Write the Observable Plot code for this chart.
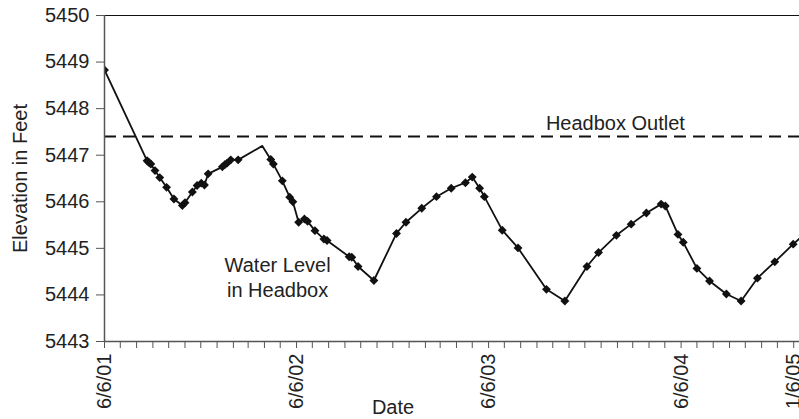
<!DOCTYPE html>
<html><head><meta charset="utf-8">
<script src="https://cdn.jsdelivr.net/npm/d3@7"></script>
<script src="https://cdn.jsdelivr.net/npm/@observablehq/plot@0.6"></script>
<style>html,body{margin:0;padding:0;background:#fff;overflow:hidden}</style>
</head><body>
<script>
// Water level in headbox (measurement dates and elevations in feet)
const dates = [
  "2001-06-06","2001-08-26","2001-08-29","2001-09-02","2001-09-10","2001-09-19","2001-10-02","2001-10-16",
  "2001-11-01","2001-11-06","2001-11-20","2001-11-29","2001-12-07","2001-12-13","2001-12-20","2002-01-16",
  "2002-01-21","2002-01-25","2002-02-01","2002-02-15","2002-04-02","2002-04-18","2002-04-23","2002-05-10",
  "2002-05-24","2002-05-30","2002-06-10","2002-06-21","2002-06-27","2002-07-11","2002-07-28","2002-08-03",
  "2002-09-14","2002-09-19","2002-10-01","2002-10-31","2002-12-13","2002-12-31","2003-01-30","2003-02-27",
  "2003-03-27","2003-04-23","2003-05-06","2003-05-20","2003-05-29","2003-07-02","2003-08-01","2003-09-24",
  "2003-10-29","2003-12-10","2004-01-01","2004-02-04","2004-03-03","2004-04-01","2004-04-29","2004-05-07",
  "2004-05-31","2004-06-10","2004-07-06","2004-07-30","2004-08-31","2004-09-28","2004-10-29","2004-12-01",
  "2005-01-05","2005-02-09"
];
const elevations = [
  5448.83, 5446.88, 5446.85, 5446.81, 5446.67, 5446.52, 5446.31, 5446.06,
  5445.92, 5445.98, 5446.21, 5446.35, 5446.40, 5446.36, 5446.60, 5446.75,
  5446.80, 5446.83, 5446.90, 5446.90, 5447.20, 5446.91, 5446.81, 5446.45,
  5446.10, 5446.00, 5445.56, 5445.63, 5445.58, 5445.38, 5445.20, 5445.17,
  5444.82, 5444.81, 5444.61, 5444.31, 5445.32, 5445.56, 5445.86, 5446.11,
  5446.29, 5446.41, 5446.53, 5446.29, 5446.11, 5445.39, 5445.01, 5444.12,
  5443.87, 5444.61, 5444.91, 5445.28, 5445.52, 5445.76, 5445.95, 5445.91,
  5445.30, 5445.13, 5444.57, 5444.30, 5444.02, 5443.87, 5444.36, 5444.71,
  5445.09, 5445.44
];
// 1 = drawn with a diamond marker, 0 = line vertex only
const markers = [
  1,1,1,1,1,1,1,1, 1,1,1,1,1,1,1,1, 1,1,1,1,0,1,1,1, 1,1,1,1,1,1,1,1,
  1,1,1,1,1,1,1,1, 1,1,1,1,1,1,1,1, 1,1,1,1,1,1,1,1, 1,1,1,1,1,1,1,1,
  1,0
];
const headboxOutlet = 5447.4;
const yTicks = [5443, 5444, 5445, 5446, 5447, 5448, 5449, 5450];
const xTickDates = ["2001-06-06", "2002-06-06", "2003-06-06", "2004-06-06", "2005-01-06"];
const xTickLabels = ["6/6/01", "6/6/02", "6/6/03", "6/6/04", "1/6/05"];
const xLabel = "Date";
const yLabel = "Elevation in Feet";
const outletLabel = "Headbox Outlet";
const waterLabel = "Water Level\nin Headbox";

const data = dates.map((d, i) => ({date: new Date(d), elevation: elevations[i], marker: markers[i]}));
const xStart = new Date("2001-06-06"), xEnd = new Date("2005-01-17");
const monthTicks = d3.utcMonth.range(new Date("2001-06-01"), xEnd)
  .map(d => d3.utcDay.offset(d, 5))
  .filter(d => d >= xStart && d <= xEnd);
const labelMap = new Map(xTickDates.map((d, i) => [+new Date(d), xTickLabels[i]]));

const chart = Plot.plot({
  width: 799, height: 419,
  marginLeft: 104, marginRight: 0, marginTop: 15, marginBottom: 78,
  style: {fontFamily: "'Liberation Sans', Arial, sans-serif", fontSize: "20px", color: "#222", background: "#fff", overflow: "hidden", maxWidth: "none"},
  x: {type: "utc", domain: [xStart, xEnd]},
  y: {domain: [5443, 5450]},
  marks: [
    Plot.ruleY([headboxOutlet], {stroke: "#111", strokeWidth: 2, strokeDasharray: "12,7"}),
    Plot.line(data, {x: "date", y: "elevation", stroke: "#111", strokeWidth: 1.8, clip: true}),
    Plot.dot(data.filter(d => d.marker), {x: "date", y: "elevation", symbol: "diamond2", r: 4, fill: "#111", clip: true}),
    Plot.ruleY([5450], {stroke: "#111", strokeWidth: 1}),
    Plot.ruleY([5443], {stroke: "#555", strokeWidth: 1.5}),
    Plot.ruleX([xStart], {stroke: "#555", strokeWidth: 1.5}),
    Plot.axisY({ticks: yTicks, tickSize: 8, tickPadding: 7, tickFormat: d => String(d), label: null, stroke: "#555", fill: "#222"}),
    Plot.axisX({ticks: monthTicks, tickSize: 7, tickPadding: 5, tickRotate: -90, tickFormat: d => labelMap.get(+d) ?? "", label: null, stroke: "#555", fill: "#222"}),
    Plot.text([yLabel], {text: d => d, frameAnchor: "left", dx: -84, rotate: -90, textAnchor: "middle", lineAnchor: "middle", fill: "#222"}),
    Plot.text([xLabel], {text: d => d, frameAnchor: "bottom", dx: -59, dy: 72, lineAnchor: "bottom", fill: "#222"}),
    Plot.text([outletLabel], {text: d => d, x: () => new Date("2003-09-23"), y: () => headboxOutlet, dy: -7, textAnchor: "start", lineAnchor: "bottom", fill: "#222"}),
    Plot.text([waterLabel], {text: d => d, x: () => new Date("2002-05-01"), y: () => 5443.96, textAnchor: "middle", lineAnchor: "bottom", lineHeight: 1.22, fill: "#222"})
  ]
});
document.body.appendChild(chart);
</script>
</body></html>
